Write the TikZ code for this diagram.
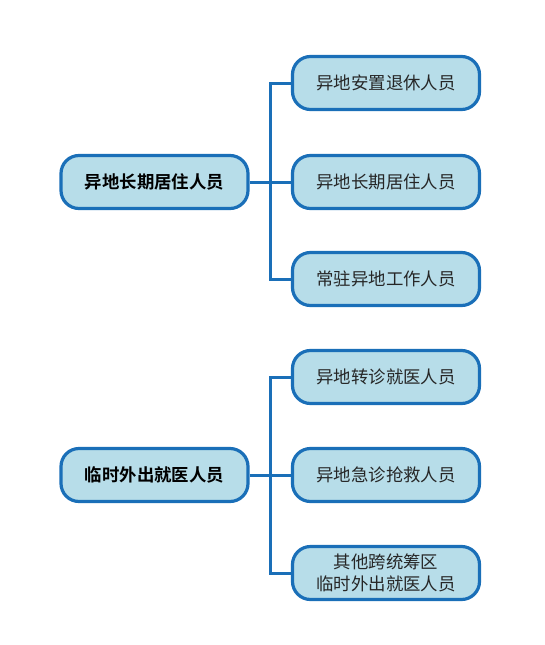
\documentclass[tikz,border=0pt]{standalone}
\usepackage{fontspec}
\newfontfamily\cjk{Noto Sans CJK SC}
\newfontfamily\cjkb{Noto Sans CJK SC Bold}
\definecolor{bord}{HTML}{1A6FB8}
\definecolor{fillc}{HTML}{B7DDE9}
\begin{document}
\begin{tikzpicture}[x=1pt,y=-1pt,
  box/.style={draw=bord,fill=fillc,line width=3.2pt,rounded corners=18pt,minimum width=187pt,minimum height=53pt,inner sep=0pt,align=center,font=\cjk\fontsize{17.4}{22}\selectfont,text=black!85},
  mainbox/.style={box,font=\cjkb\fontsize{17.4}{22}\selectfont,text=black},
  conn/.style={draw=bord,line width=3pt}]
\useasboundingbox (0,0) rectangle (545,645);
\node[mainbox] (m1) at (154.5,182) {异地长期居住人员};
\node[box] (a1) at (386,83) {异地安置退休人员};
\node[box] (a2) at (386,182) {异地长期居住人员};
\node[box] (a3) at (386,279) {常驻异地工作人员};
\node[mainbox] (m2) at (154.5,475) {临时外出就医人员};
\node[box] (b1) at (386,377) {异地转诊就医人员};
\node[box] (b2) at (386,475) {异地急诊抢救人员};
\node[box] (b3) at (386,573) {其他跨统筹区\\临时外出就医人员};
\coordinate (t1) at (270,83);
\coordinate (t3) at (270,279);
\coordinate (s1) at (270,377);
\coordinate (s3) at (270,573);
\draw[conn] (a1.west) -- (t1) -- (t3) -- (a3.west);
\draw[conn] (m1.east) -- (a2.west);
\draw[conn] (b1.west) -- (s1) -- (s3) -- (b3.west);
\draw[conn] (m2.east) -- (b2.west);
\end{tikzpicture}
\end{document}
